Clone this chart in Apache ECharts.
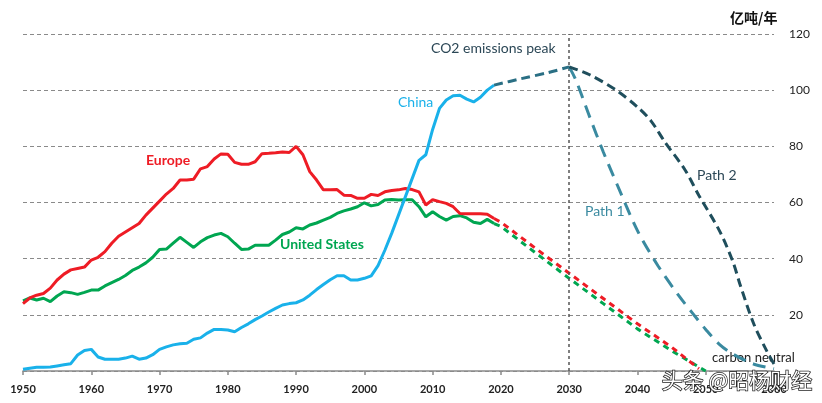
<!DOCTYPE html>
<html>
<head>
<meta charset="utf-8">
<script src="https://cdn.jsdelivr.net/npm/echarts@6/dist/echarts.min.js"></script>
<style>
html,body{margin:0;padding:0;background:#fff;}
#chart{width:822px;height:403px;}
</style>
</head>
<body>
<div id="chart"></div>
<script>
// ---- data ----
const histYears = Array.from({length: 70}, (_, i) => 1950 + i); // 1950..2019
const europe = [24,26,27,27.6,29.5,32.4,34.5,36,36.5,37,
  39.5,40.5,42.5,45.5,48,49.5,51,52.5,55.5,58,
  60.5,63,65,68,68,68.3,72,72.8,75.5,77.3,
  77.2,74.3,73.6,73.6,74.5,77.4,77.5,77.7,78,77.8,
  80,77,71,68,64.5,64.5,64.6,62.6,62.5,61.5,
  61.5,62.9,62.5,63.8,64.3,64.5,65,64.6,63.8,59.1,
  61,60.3,59.7,58.5,56.1,56,56,56,55.8,54.3];
const unitedStates = [25,26,25.3,25.9,24.7,26.7,28.2,27.9,27.3,28,
  28.8,28.8,30.3,31.5,32.6,34,35.8,37,38.5,40.5,
  43.3,43.4,45.5,47.6,45.8,44,46,47.5,48.4,49,
  47.8,45.5,43.3,43.4,44.8,44.8,44.8,46.6,48.6,49.5,
  51,50.6,52,52.7,53.7,54.7,56.1,57,57.7,58.5,
  59.9,58.8,59.3,60.9,61.1,60.9,61,61,58.5,54.9,
  56.7,55,53.7,55,55.3,54.5,53,52.5,54,52.5];
const china = [0.6,1,1.3,1.3,1.4,1.8,2.2,2.6,5.7,7.3,
  7.7,5,4.2,4.2,4.2,4.6,5.3,4.2,4.6,5.8,
  7.7,8.6,9.3,9.7,9.9,11.3,11.8,13.5,14.8,14.8,
  14.6,14,15.5,16.8,18.3,19.6,21,22.3,23.5,24,
  24.3,25.3,27,29,30.8,32.5,33.9,33.9,32.4,32.4,
  33,33.9,37.5,43,49,55.5,62,68.5,75,77,
  86,93.5,96.5,98,98.2,96.8,95.8,97.5,100,101.8];

const europeProjYears = [2019,2020,2025,2030,2035,2040,2045,2049];
const europeProj      = [54.3,53,43.8,34.8,25.8,16.8,8.5,0.8];
const usProjYears     = [2019,2020,2025,2030,2035,2040,2045,2050];
const usProj          = [52.5,51.5,42.2,33,24,15,7.2,0];
const chinaProjYears  = [2019,2023,2027,2030];
const chinaProj       = [101.8,104.1,106.3,108.3];
const path1Years = [2030,2031,2033,2035,2037,2040,2043,2046,2048,2050,2052,2054,2057,2060];
const path1      = [108.3,103.5,90.5,78,66.5,50,37.5,27,20.8,14.8,9.5,6,2.5,0.8];
const path2Years = [2030,2033,2037,2040,2042,2044,2047,2049,2052,2054,2055,2057,2059,2060];
const path2      = [108.3,105.5,99.8,94,89,81.6,71.5,62.5,50,38.8,31,17,6.8,2.5];

const xTicks = [1950,1960,1970,1980,1990,2000,2010,2020,2030,2040,2050,2060];
const yTicks = [20,40,60,80,100,120];

const zip = (xs, ys) => xs.map((x, i) => [x, ys[i]]);

const FONT = 'Lato, "Open Sans", sans-serif';

const chart = echarts.init(document.getElementById('chart'));
chart.setOption({
  animation: false,
  grid: {left: 23, right: 48, top: 34, bottom: 32},
  xAxis: {
    type: 'value', min: 1950, max: 2060, interval: 10,
    axisLine: {show: true, lineStyle: {color: '#8a8a8a', width: 1.5}},
    axisTick: {show: true, inside: false, length: 4, lineStyle: {color: '#8a8a8a', width: 1.5}},
    splitLine: {show: false},
    axisLabel: {
      color: '#222', fontSize: 11, fontFamily: FONT, fontWeight: 'bold', margin: 13,
      formatter: v => xTicks.includes(v) ? String(v) : ''
    }
  },
  yAxis: {
    type: 'value', position: 'right', min: 0, max: 120, interval: 20,
    axisLine: {show: false}, axisTick: {show: false},
    splitLine: {show: true, lineStyle: {color: '#8a8a8a', type: [4, 3], width: 1}},
    axisLabel: {
      color: '#222', fontSize: 12, fontFamily: FONT, margin: 15,
      formatter: v => yTicks.includes(v) ? String(v) : ''
    }
  },
  series: [
    {type: 'line', name: 'US proj', data: zip(usProjYears, usProj), showSymbol: false,
      lineStyle: {color: '#00a651', width: 3, type: [6, 5]}, z: 2},
    {type: 'line', name: 'Europe proj', data: zip(europeProjYears, europeProj), showSymbol: false,
      lineStyle: {color: '#ee1c25', width: 3, type: [6, 5]}, z: 3},
    {type: 'line', name: 'United States', data: zip(histYears, unitedStates), showSymbol: false,
      lineStyle: {color: '#00a651', width: 3}, z: 4},
    {type: 'line', name: 'Europe', data: zip(histYears, europe), showSymbol: false,
      lineStyle: {color: '#ee1c25', width: 3}, z: 5},
    {type: 'line', name: 'China', data: zip(histYears, china), showSymbol: false,
      lineStyle: {color: '#19b1ea', width: 3}, z: 6,
      markLine: {
        silent: true, symbol: ['none', 'none'], label: {show: false},
        lineStyle: {color: '#555', type: [3, 3], width: 1.5},
        data: [{xAxis: 2030}]
      }},
    {type: 'line', name: 'China proj', data: zip(chinaProjYears, chinaProj), showSymbol: false,
      smooth: 0.3,
      lineStyle: {color: '#2a6f84', width: 3, type: [9, 5]}, z: 6},
    {type: 'line', name: 'Path 1', data: zip(path1Years, path1), showSymbol: false,
      smooth: 0.3,
      lineStyle: {color: '#3a8aa0', width: 3, type: [13, 8]}, z: 6},
    {type: 'line', name: 'Path 2', data: zip(path2Years, path2), showSymbol: false,
      smooth: 0.3,
      lineStyle: {color: '#1f4e5c', width: 3, type: [9, 5]}, z: 6}
  ],
  graphic: [
    {type: 'text', left: 730, top: 11, style: {text: '亿吨/年', fill: '#111', font: 'bold 14px "Noto Sans CJK SC"'}},
    {type: 'text', left: 146, top: 153, style: {text: 'Europe', fill: '#ee1c25', font: 'bold 14px ' + FONT}},
    {type: 'text', left: 280, top: 237, style: {text: 'United States', fill: '#00a651', font: 'bold 14px ' + FONT}},
    {type: 'text', left: 398, top: 95, style: {text: 'China', fill: '#19b1ea', font: '14px ' + FONT}},
    {type: 'text', left: 431, top: 41, style: {text: 'CO2 emissions peak', fill: '#2b4756', font: '14px ' + FONT}},
    {type: 'text', left: 697, top: 168, style: {text: 'Path 2', fill: '#2b4756', font: '14px ' + FONT}},
    {type: 'text', left: 585, top: 204, style: {text: 'Path 1', fill: '#3a8aa0', font: '14px ' + FONT}},
    {type: 'text', left: 712, top: 351, style: {text: 'carbon neutral', fill: '#222', font: '13px ' + FONT}},
    {type: 'text', left: 661, top: 369, z: 100, style: {text: '头条 @昭杨财经', fill: '#fff', stroke: '#222', lineWidth: 1.5, font: '21px "Noto Sans CJK SC"'}}
  ]
});
</script>
</body>
</html>
